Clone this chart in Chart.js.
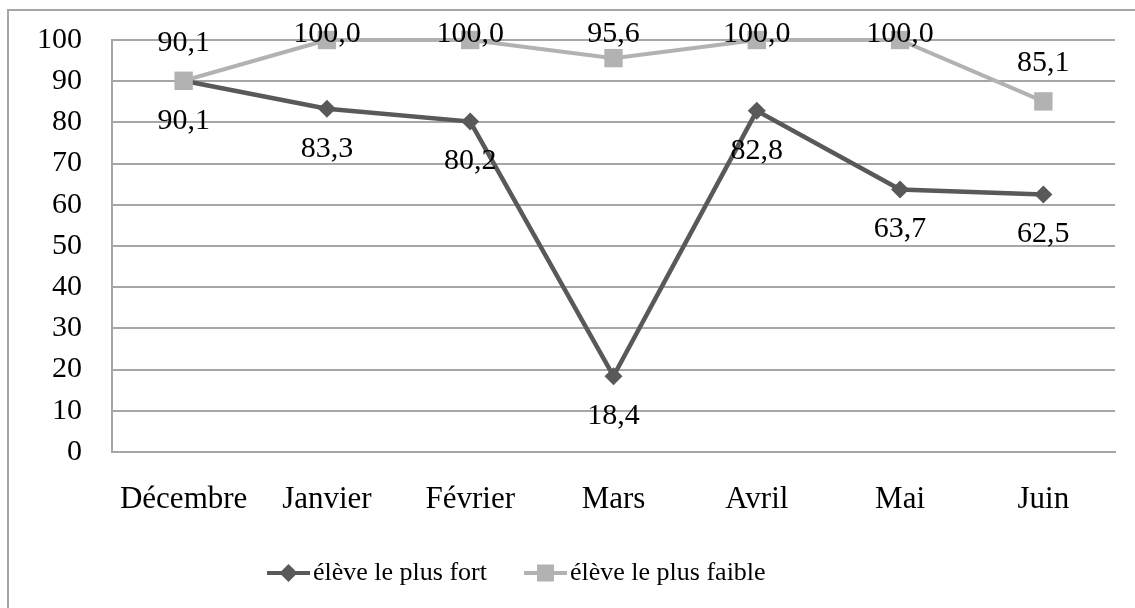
<!DOCTYPE html>
<html>
<head>
<meta charset="utf-8">
<script src="https://cdn.jsdelivr.net/npm/chart.js@4/dist/chart.umd.min.js"></script>
<style>
  html, body { margin: 0; padding: 0; background: #fff; }
  canvas { display: block; }
</style>
</head>
<body>
<canvas id="myChart" width="1135" height="608"></canvas>
<script>
// data
const months = ['Décembre', 'Janvier', 'Février', 'Mars', 'Avril', 'Mai', 'Juin'];
const strongest = [90.1, 83.3, 80.2, 18.4, 82.8, 63.7, 62.5];
const weakest = [90.1, 100.0, 100.0, 95.6, 100.0, 100.0, 85.1];
const seriesNames = ['élève le plus fort', 'élève le plus faible'];
const yMin = 0, yMax = 100, yStep = 10;

const FONT = "'Liberation Serif', 'Times New Roman', serif";
const DARK = '#595959';
const LIGHT = '#b2b2b2';
const GRID = '#a6a6a6';

// little line + marker picture for the legend
function legendIcon(color, shape) {
  const c = document.createElement('canvas');
  c.width = 80; c.height = 24;
  const g = c.getContext('2d');
  g.strokeStyle = color;
  g.fillStyle = color;
  g.lineWidth = 4;
  g.beginPath();
  g.moveTo(36, 12);
  g.lineTo(79, 12);
  g.stroke();
  const cx = 57.5, cy = 12;
  g.beginPath();
  if (shape === 'diamond') {
    g.moveTo(cx - 9, cy); g.lineTo(cx, cy - 9); g.lineTo(cx + 9, cy); g.lineTo(cx, cy + 9);
    g.closePath(); g.fill();
  } else {
    g.fillRect(cx - 8.5, cy - 8.5, 17, 17);
  }
  return c;
}

const frame = {
  id: 'frame',
  beforeDraw(chart) {
    const ctx = chart.ctx;
    ctx.save();
    ctx.fillStyle = '#fff';
    ctx.fillRect(0, 0, chart.width, chart.height);
    ctx.strokeStyle = GRID;
    ctx.lineWidth = 2;
    ctx.strokeRect(8, 10, 1200, 700);
    ctx.restore();
  }
};

// move the legend row so it starts where the original one does
const legendShift = {
  id: 'legendShift',
  afterLayout(chart) {
    const lg = chart.legend;
    if (!lg || !lg.lineWidths) return;
    const pad = lg.options.labels.padding;
    const cur = (lg.left + pad + lg.right - lg.lineWidths[0]) / 2;
    const shift = 242 - cur;
    lg.left += shift;
    lg.right += shift;
  }
};

const valueLabels = {
  id: 'valueLabels',
  afterDatasetsDraw(chart) {
    const ctx = chart.ctx;
    ctx.save();
    ctx.font = '30px ' + FONT;
    ctx.fillStyle = '#000';
    ctx.textAlign = 'center';
    ctx.textBaseline = 'middle';
    chart.data.datasets.forEach((ds, i) => {
      const meta = chart.getDatasetMeta(i);
      meta.data.forEach((pt, j) => {
        const txt = ds.data[j].toFixed(1).replace('.', ',');
        const y = ds.labelSide === 'below' ? pt.y + 40 : Math.max(pt.y - 38, 34);
        ctx.fillText(txt, pt.x, y);
      });
    });
    ctx.restore();
  }
};

const ctx = document.getElementById('myChart').getContext('2d');
new Chart(ctx, {
  type: 'line',
  data: {
    labels: months,
    datasets: [
      {
        label: seriesNames[0],
        data: strongest,
        borderColor: DARK,
        backgroundColor: DARK,
        borderWidth: 4.5,
        pointStyle: 'rectRot',
        pointRadius: 9,
        pointBorderWidth: 0,
        pointBackgroundColor: DARK,
        tension: 0,
        clip: false,
        order: 1,
        labelSide: 'below',
        icon: legendIcon(DARK, 'diamond')
      },
      {
        label: seriesNames[1],
        data: weakest,
        borderColor: LIGHT,
        backgroundColor: LIGHT,
        borderWidth: 4,
        pointStyle: 'rect',
        pointRadius: 13,
        pointBorderWidth: 0,
        pointBackgroundColor: LIGHT,
        tension: 0,
        clip: false,
        order: 0,
        labelSide: 'above',
        icon: legendIcon(LIGHT, 'square')
      }
    ]
  },
  options: {
    responsive: false,
    animation: false,
    events: [],
    layout: { padding: { left: 0, right: 20, top: 40, bottom: 12 } },
    plugins: {
      tooltip: { enabled: false },
      legend: {
        position: 'bottom',
        labels: {
          usePointStyle: true,
          pointStyleWidth: 58,
          padding: 12,
          color: '#000',
          font: { family: FONT, size: 26 },
          generateLabels(chart) {
            return chart.data.datasets.map((ds, i) => ({
              text: ds.label,
              pointStyle: ds.icon,
              fillStyle: ds.borderColor,
              strokeStyle: ds.borderColor,
              lineWidth: 0,
              fontColor: '#000',
              hidden: false,
              datasetIndex: i
            }));
          }
        }
      }
    },
    scales: {
      x: {
        offset: true,
        grid: { display: false, drawTicks: false },
        border: { display: true, color: GRID, width: 2 },
        ticks: { color: '#000', padding: 29, font: { family: FONT, size: 31 }, maxRotation: 0 },
        afterFit(scale) { scale.height = 96; }
      },
      y: {
        min: yMin,
        max: yMax,
        grid: { color: GRID, lineWidth: 2, drawTicks: false },
        border: { display: true, color: GRID, width: 2 },
        ticks: { stepSize: yStep, color: '#000', padding: 30, font: { family: FONT, size: 30 } },
        afterFit(scale) {
          scale.width = 112;
          scale.paddingTop = 0;
          scale.paddingBottom = 0;
        }
      }
    }
  },
  plugins: [frame, legendShift, valueLabels]
});
</script>
</body>
</html>
